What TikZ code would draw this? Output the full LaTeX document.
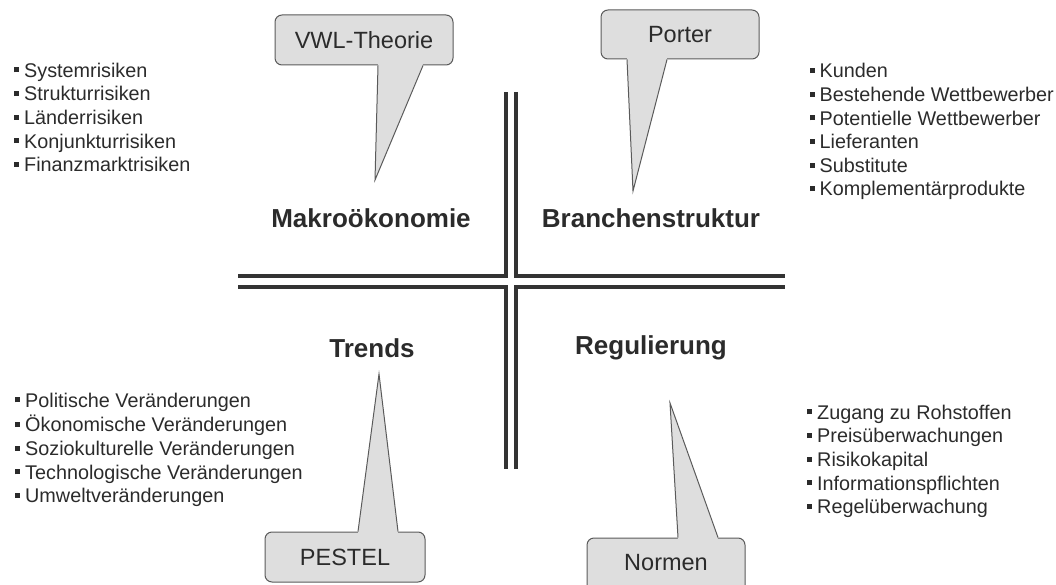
\documentclass[tikz,border=0pt]{standalone}
\usepackage{fontspec}
\setmainfont{Liberation Sans}
\usetikzlibrary{calc}
\definecolor{ink}{HTML}{2B2B2B}
\definecolor{rulegray}{HTML}{333333}
\definecolor{boxfill}{HTML}{DEDEDE}
\definecolor{boxline}{HTML}{5A5A5A}
% small square bullet in front of each list entry
\newcommand\blt{\textcolor{ink}{\rule[4.8pt]{5pt}{5pt}}\hspace{5pt}}
\begin{document}
\begin{tikzpicture}[x=1pt,y=-1pt,
  listtext/.style={anchor=north west, inner sep=0pt, align=left, text=ink,
    font=\fontsize{19.8}{23.6}\selectfont},
  quadlabel/.style={text=ink, inner sep=0pt,
    font=\bfseries\fontsize{26}{30}\selectfont},
  callbox/.style={draw=boxline, fill=boxfill, line width=1pt,
    rounded corners=7pt, inner sep=0pt, text=ink,
    font=\fontsize{23.5}{27}\selectfont},
  divider/.style={draw=rulegray, line width=3.5pt, line join=miter},
  tailfill/.style={fill=boxfill},
  tailedge/.style={draw=boxline, line width=1pt, line join=miter}
]
\clip (0,0) rectangle (1056,585);
\useasboundingbox (0,0) rectangle (1056,585);

% ---- cross of double lines, one L-shaped corner per quadrant
\draw[divider] (238,276) -- (506,276) -- (506,92);
\draw[divider] (516,92) -- (516,276) -- (785,276);
\draw[divider] (238,287) -- (506,287) -- (506,469);
\draw[divider] (516,469) -- (516,287) -- (785,287);

% ---- quadrant titles
\node[quadlabel] (makro)   at (371,218) {Makroökonomie};
\node[quadlabel] (branche) at (651,218) {Branchenstruktur};
\node[quadlabel] (trends)  at (372,348) {Trends};
\node[quadlabel] (regul)   at (651,348) {Regulierung};

% ---- speech-bubble callouts
\node[callbox, minimum width=178pt, minimum height=50pt] (vwl) at (364,40) {VWL-Theorie};
\node[callbox, minimum width=158pt, minimum height=49pt] (porter) at (680,34.5) {Porter};
\node[callbox, minimum width=160pt, minimum height=50pt] (pestel) at (345,557) {PESTEL};
\node[callbox, minimum width=158pt, minimum height=54pt] (normen) at (666,565) {};
\node[text=ink, font=\fontsize{23.5}{27}\selectfont, inner sep=0pt] (normentext) at (666,563) {Normen};

\coordinate (vwltip) at (375,180);
\coordinate (portertip) at (633,191);
\coordinate (pesteltip) at (379,374);
\coordinate (normentip) at (670,403);

\fill[tailfill] ($(vwl.south)+(14,-1.5)$) -- (vwltip) -- ($(vwl.south)+(59,-1.5)$) -- cycle;
\draw[tailedge] ($(vwl.south)+(14,0)$) -- (vwltip) -- ($(vwl.south)+(59,0)$);

\fill[tailfill] ($(porter.south)+(-53,-1.5)$) -- (portertip) -- ($(porter.south)+(-13,-1.5)$) -- cycle;
\draw[tailedge] ($(porter.south)+(-53,0)$) -- (portertip) -- ($(porter.south)+(-13,0)$);

\fill[tailfill] ($(pestel.north)+(13,1.5)$) -- (pesteltip) -- ($(pestel.north)+(53,1.5)$) -- cycle;
\draw[tailedge] ($(pestel.north)+(13,0)$) -- (pesteltip) -- ($(pestel.north)+(53,0)$);

\fill[tailfill] ($(normen.north)+(12,1.5)$) -- (normentip) -- ($(normen.north)+(52,1.5)$) -- cycle;
\draw[tailedge] ($(normen.north)+(12,0)$) -- (normentip) -- ($(normen.north)+(52,0)$);

% ---- bullet lists
\node[listtext] (makrolist) at (14,60.5) {\strut\blt Systemrisiken\\
  \blt Strukturrisiken\\
  \blt Länderrisiken\\
  \blt Konjunkturrisiken\\
  \blt Finanzmarktrisiken};
\node[listtext] (branchelist) at (809.5,61.2) {\strut\blt Kunden\\
  \blt Bestehende Wettbewerber\\
  \blt Potentielle Wettbewerber\\
  \blt Lieferanten\\
  \blt Substitute\\
  \blt Komplementärprodukte};
\node[listtext] (trendlist) at (15,390.5) {\strut\blt Politische Veränderungen\\
  \blt Ökonomische Veränderungen\\
  \blt Soziokulturelle Veränderungen\\
  \blt Technologische Veränderungen\\
  \blt Umweltveränderungen};
\node[listtext] (regullist) at (807,402.5) {\strut\blt Zugang zu Rohstoffen\\
  \blt Preisüberwachungen\\
  \blt Risikokapital\\
  \blt Informationspflichten\\
  \blt Regelüberwachung};
\end{tikzpicture}
\end{document}
